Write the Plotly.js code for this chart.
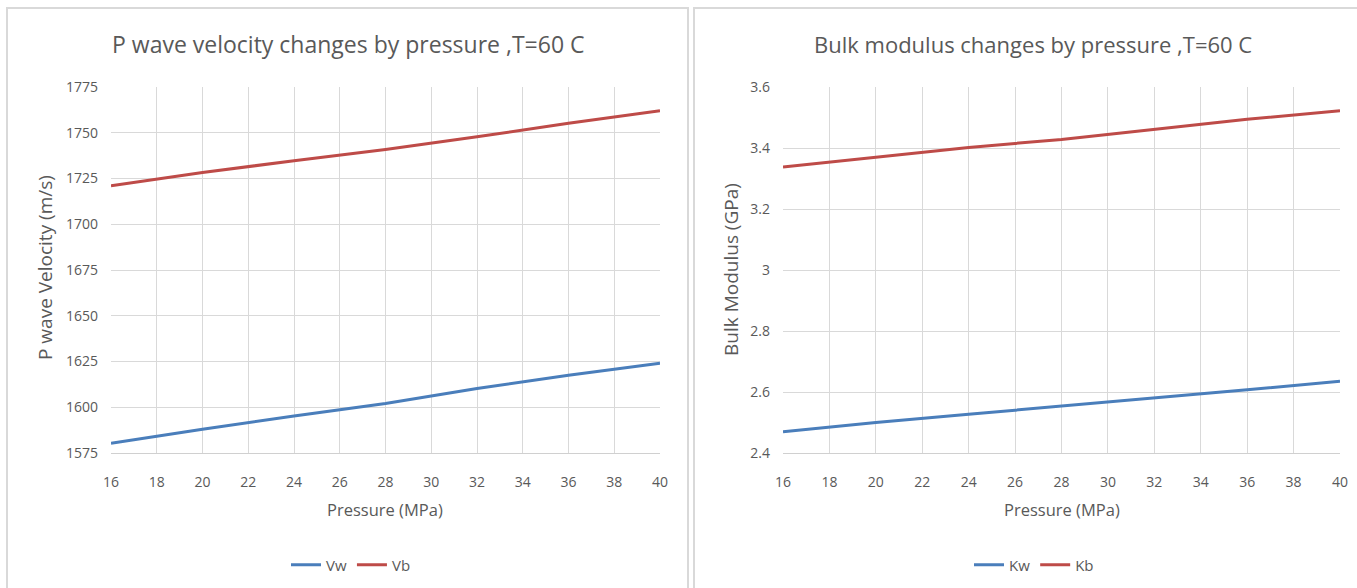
<!DOCTYPE html>
<html>
<head>
<meta charset="utf-8">
<script src="https://cdn.plot.ly/plotly-3.0.1.min.js"></script>
<style>html,body{margin:0;padding:0;background:#fff;}#chart{width:1357px;height:588px;}</style>
</head>
<body>
<div id="chart"></div>
<script>
const pressure = [16, 20, 24, 28, 32, 36, 40];
const Vw = [1580.3, 1588, 1595.2, 1602, 1610.2, 1617.5, 1624];
const Vb = [1721, 1728.3, 1734.7, 1740.8, 1747.8, 1755.2, 1762];
const Kw = [2.47, 2.50, 2.527, 2.553, 2.58, 2.607, 2.635];
const Kb = [3.338, 3.371, 3.402, 3.428, 3.461, 3.494, 3.522];

const W = 1357, H = 588;
const px = v => v / W;
const py = v => 1 - v / H;
const gray = '#595959';
const font = 'Open Sans, Liberation Sans, sans-serif';
const blue = '#4a7ebb', red = '#be4b48';

const traces = [
  {x: pressure, y: Vw, name: 'Vw', mode: 'lines', line: {color: blue, width: 3}, xaxis: 'x', yaxis: 'y', legend: 'legend'},
  {x: pressure, y: Vb, name: 'Vb', mode: 'lines', line: {color: red, width: 3}, xaxis: 'x', yaxis: 'y', legend: 'legend'},
  {x: pressure, y: Kw, name: 'Kw', mode: 'lines', line: {color: blue, width: 3}, xaxis: 'x2', yaxis: 'y2', legend: 'legend2'},
  {x: pressure, y: Kb, name: 'Kb', mode: 'lines', line: {color: red, width: 3}, xaxis: 'x2', yaxis: 'y2', legend: 'legend2'}
];

const xCommon = {
  range: [16, 40], dtick: 2, tick0: 16, showgrid: true, gridcolor: '#d9d9d9', gridwidth: 1,
  zeroline: false, showline: true, linecolor: '#d0d0d0', linewidth: 1,
  ticks: '', ticklabelstandoff: 16, tickfont: {family: font, size: 14, color: gray}, fixedrange: true
};
const yCommon = {
  showgrid: true, gridcolor: '#d9d9d9', gridwidth: 1, zeroline: false, showline: false,
  ticks: '', ticklabelstandoff: 12, tickfont: {family: font, size: 14, color: gray}, fixedrange: true
};

const layout = {
  width: W, height: H,
  margin: {l: 0, r: 0, t: 0, b: 0},
  paper_bgcolor: '#ffffff', plot_bgcolor: '#ffffff',
  showlegend: true,
  xaxis: Object.assign({}, xCommon, {domain: [px(111), px(660)], anchor: 'y'}),
  yaxis: Object.assign({}, yCommon, {domain: [py(453), py(87)], range: [1575, 1775], dtick: 25, anchor: 'x'}),
  xaxis2: Object.assign({}, xCommon, {domain: [px(783), px(1340)], anchor: 'y2'}),
  yaxis2: Object.assign({}, yCommon, {domain: [py(453), py(87)], range: [2.4, 3.6], dtick: 0.2, anchor: 'x2',
    tickvals: [2.4, 2.6, 2.8, 3.0, 3.2, 3.4, 3.6], ticktext: ['2.4', '2.6', '2.8', '3', '3.2', '3.4', '3.6']}),
  legend: {orientation: 'h', x: px(351), xanchor: 'center', y: py(565), yanchor: 'middle',
    font: {family: font, size: 15, color: gray}, bgcolor: 'rgba(0,0,0,0)', itemwidth: 30, tracegroupgap: 0},
  legend2: {orientation: 'h', x: px(1034), xanchor: 'center', y: py(565), yanchor: 'middle',
    font: {family: font, size: 15, color: gray}, bgcolor: 'rgba(0,0,0,0)', itemwidth: 30, tracegroupgap: 0},
  shapes: [
    {type: 'rect', xref: 'paper', yref: 'paper', x0: px(7), x1: px(688), y0: py(600), y1: py(8),
      line: {color: '#d9d9d9', width: 2}, layer: 'below'},
    {type: 'rect', xref: 'paper', yref: 'paper', x0: px(694), x1: px(1370), y0: py(600), y1: py(8),
      line: {color: '#d9d9d9', width: 2}, layer: 'below'}
  ],
  annotations: [
    {text: 'P wave velocity changes by pressure ,T=60 C', xref: 'paper', yref: 'paper', x: px(348), y: py(44),
      xanchor: 'center', yanchor: 'middle', showarrow: false, font: {family: font, size: 23, color: gray}},
    {text: 'Bulk modulus changes by pressure ,T=60 C', xref: 'paper', yref: 'paper', x: px(1033), y: py(44),
      xanchor: 'center', yanchor: 'middle', showarrow: false, font: {family: font, size: 22, color: gray}},
    {text: 'Pressure (MPa)', xref: 'paper', yref: 'paper', x: px(385), y: py(509),
      xanchor: 'center', yanchor: 'middle', showarrow: false, font: {family: font, size: 16.5, color: gray}},
    {text: 'Pressure (MPa)', xref: 'paper', yref: 'paper', x: px(1062), y: py(509),
      xanchor: 'center', yanchor: 'middle', showarrow: false, font: {family: font, size: 16.5, color: gray}},
    {text: 'P wave Velocity (m/s)', xref: 'paper', yref: 'paper', x: px(45), y: py(268), textangle: -90,
      xanchor: 'center', yanchor: 'middle', showarrow: false, font: {family: font, size: 19, color: gray}},
    {text: 'Bulk Modulus (GPa)', xref: 'paper', yref: 'paper', x: px(731), y: py(270), textangle: -90,
      xanchor: 'center', yanchor: 'middle', showarrow: false, font: {family: font, size: 19, color: gray}}
  ]
};

Plotly.newPlot('chart', traces, layout, {displayModeBar: false, staticPlot: true});
</script>
</body>
</html>
